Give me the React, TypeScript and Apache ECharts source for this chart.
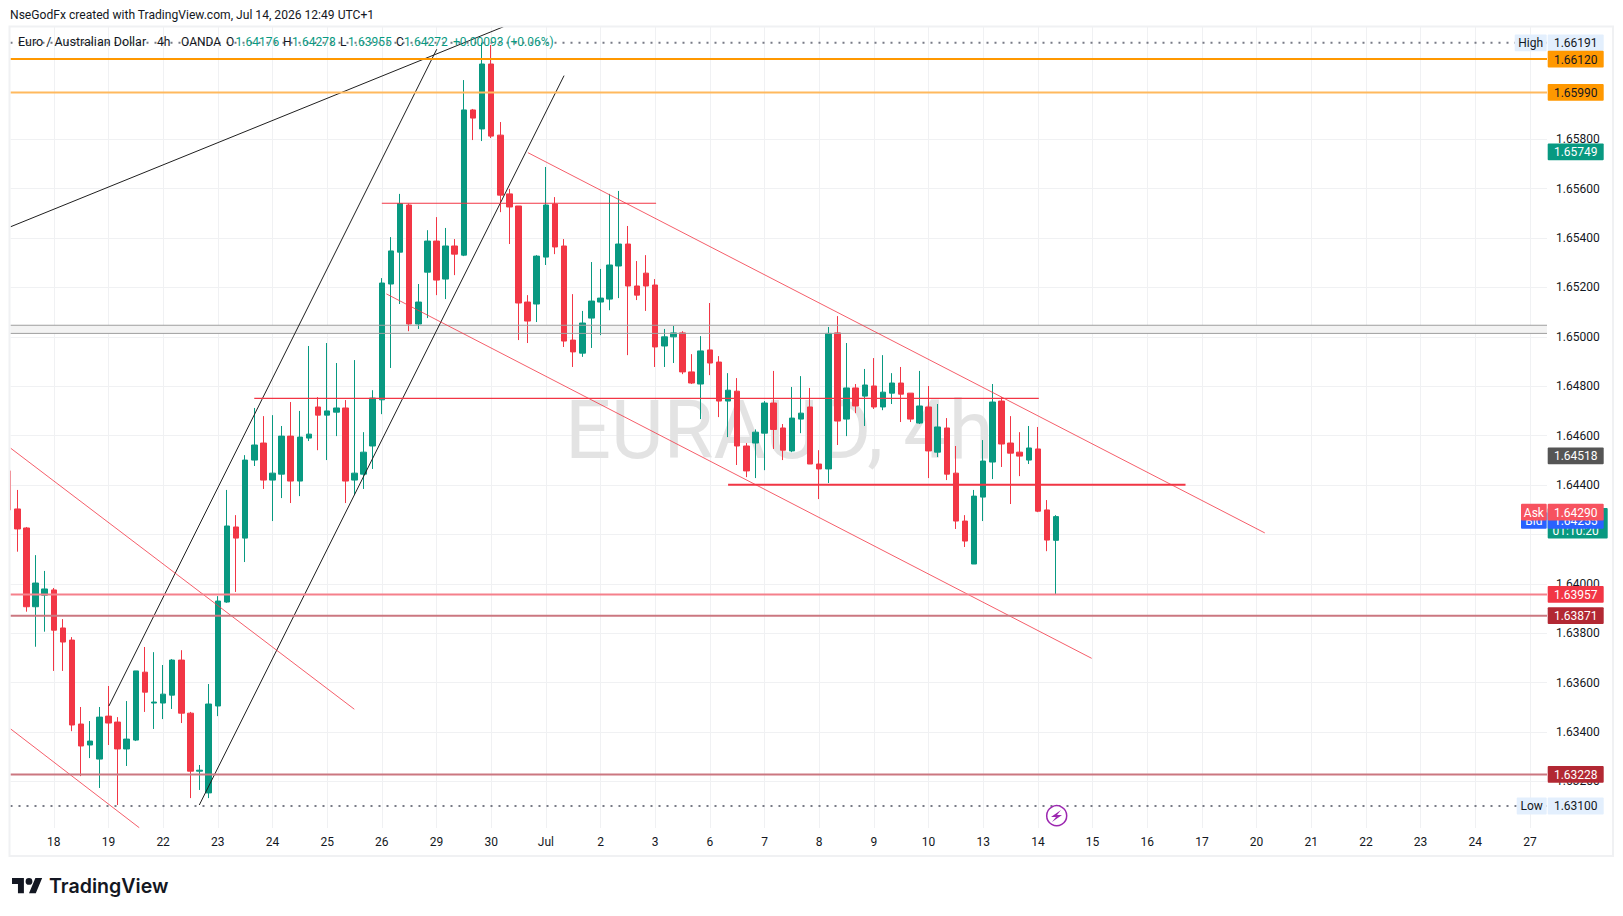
import React, { useEffect, useRef } from "react";
import * as echarts from "echarts";

// [open, high, low, close]
const barsJun17to19 = [
  [1.64457,1.64457,1.64299,1.64299],[1.64303,1.64380,1.64130,1.64222],[1.64226,1.64230,1.63887,1.63907],
  [1.63907,1.64116,1.63745,1.64003],[1.63954,1.64052,1.63806,1.63979],
  [1.63975,1.63983,1.63647,1.63812],[1.63821,1.63857,1.63647,1.63764],[1.63772,1.63784,1.63403,1.63428],
  [1.63432,1.63501,1.63221,1.63343],[1.63347,1.63444,1.63294,1.63363],[1.63290,1.63501,1.63173,1.63460],
  [1.63464,1.63586,1.63347,1.63436],[1.63440,1.63460,1.63104,1.63331],[1.63331,1.63525,1.63262,1.63371],
  [1.63367,1.63647,1.63363,1.63647],[1.63642,1.63744,1.63481,1.63561],[1.63517,1.63723,1.63412,1.63521],
];
const barsJun22to24 = [
  [1.63517,1.63671,1.63452,1.63553],[1.63549,1.63695,1.63493,1.63691],[1.63691,1.63731,1.63436,1.63476],
  [1.63476,1.63481,1.63132,1.63241],[1.63241,1.63266,1.63165,1.63245],[1.63153,1.63594,1.63132,1.63513],
  [1.63505,1.63950,1.63464,1.63930],[1.63926,1.64380,1.63923,1.64234],[1.64230,1.64278,1.63967,1.64185],
  [1.64185,1.64521,1.64088,1.64501],[1.64501,1.64712,1.64477,1.64562],[1.64570,1.64679,1.64384,1.64420],
  [1.64420,1.64683,1.64254,1.64448],[1.64444,1.64639,1.64347,1.64598],[1.64598,1.64736,1.64327,1.64416],
  [1.64416,1.64700,1.64355,1.64594],[1.64590,1.64963,1.64578,1.64606],[1.64716,1.64756,1.64541,1.64683],
];
const barsJun25to29 = [
  [1.64683,1.64975,1.64501,1.64700],[1.64695,1.64894,1.64598,1.64712],[1.64712,1.64744,1.64327,1.64416],
  [1.64420,1.64906,1.64359,1.64448],[1.64444,1.64614,1.64384,1.64533],[1.64558,1.64784,1.64465,1.64752],
  [1.64745,1.65238,1.64687,1.65218],[1.65214,1.65404,1.64874,1.65348],[1.65343,1.65579,1.65133,1.65540],
  [1.65534,1.65540,1.65023,1.65052],[1.65052,1.65214,1.65032,1.65141],[1.65262,1.65432,1.65076,1.65388],
  [1.65388,1.65485,1.65169,1.65230],[1.65234,1.65441,1.65153,1.65368],[1.65368,1.65396,1.65250,1.65335],
  [1.65331,1.66040,1.65327,1.65919],[1.65919,1.65923,1.65797,1.65886],[1.65842,1.66191,1.65793,1.66105],
];
const barsJun30toJul2 = [
  [1.66105,1.66182,1.65805,1.65813],[1.65817,1.65870,1.65505,1.65574],[1.65579,1.65599,1.65376,1.65526],
  [1.65530,1.65530,1.64987,1.65137],[1.65141,1.65169,1.64975,1.65064],[1.65133,1.65331,1.65060,1.65327],
  [1.65323,1.65688,1.65291,1.65534],[1.65538,1.65566,1.65335,1.65364],[1.65368,1.65396,1.64959,1.64983],
  [1.64987,1.65173,1.64878,1.64939],[1.64934,1.65105,1.64919,1.65056],[1.65076,1.65303,1.64955,1.65145],
  [1.65141,1.65275,1.65007,1.65157],[1.65153,1.65579,1.65108,1.65291],[1.65287,1.65591,1.65157,1.65376],
  [1.65376,1.65449,1.64926,1.65206],[1.65206,1.65307,1.65149,1.65169],[1.65258,1.65331,1.65105,1.65206],
];
const barsJul3to7 = [
  [1.65210,1.65234,1.64878,1.64959],[1.64963,1.65032,1.64878,1.65000],[1.65000,1.65044,1.64894,1.65016],
  [1.65016,1.65023,1.64849,1.64858],[1.64858,1.64930,1.64809,1.64813],[1.64809,1.65003,1.64667,1.64943],
  [1.64947,1.65137,1.64845,1.64894],[1.64898,1.64922,1.64675,1.64740],[1.64740,1.64853,1.64594,1.64784],
  [1.64780,1.64833,1.64481,1.64558],[1.64558,1.64570,1.64432,1.64457],[1.64570,1.64625,1.64428,1.64614],
  [1.64610,1.64740,1.64460,1.64732],[1.64732,1.64862,1.64546,1.64625],[1.64631,1.64647,1.64501,1.64541],
  [1.64538,1.64797,1.64533,1.64671],[1.64667,1.64841,1.64610,1.64691],[1.64716,1.64793,1.64485,1.64485],
];
const barsJul8to10 = [
  [1.64485,1.64541,1.64343,1.64465],[1.64465,1.65040,1.64408,1.65014],[1.65016,1.65084,1.64562,1.64659],
  [1.64667,1.64975,1.64598,1.64793],[1.64793,1.64809,1.64691,1.64720],[1.64760,1.64870,1.64639,1.64805],
  [1.64801,1.64914,1.64708,1.64716],[1.64716,1.64926,1.64703,1.64776],[1.64772,1.64853,1.64728,1.64813],
  [1.64813,1.64878,1.64655,1.64768],[1.64772,1.64772,1.64655,1.64667],[1.64651,1.64862,1.64647,1.64720],
  [1.64716,1.64801,1.64428,1.64538],[1.64533,1.64728,1.64513,1.64635],[1.64631,1.64671,1.64420,1.64444],
  [1.64448,1.64558,1.64222,1.64254],[1.64254,1.64278,1.64149,1.64173],[1.64080,1.64380,1.64080,1.64355],
];
const barsJul13to14 = [
  [1.64351,1.64582,1.64254,1.64497],[1.64493,1.64809,1.64424,1.64736],[1.64740,1.64756,1.64473,1.64566],
  [1.64570,1.64679,1.64323,1.64529],[1.64533,1.64614,1.64436,1.64517],[1.64501,1.64639,1.64485,1.64550],
  [1.64546,1.64635,1.64290,1.64294],[1.64299,1.64339,1.64132,1.64177],[1.64176,1.64278,1.63955,1.64272],
];
const allBars = [...barsJun17to19, ...barsJun22to24, ...barsJun25to29, ...barsJun30toJul2, ...barsJul3to7, ...barsJul8to10, ...barsJul13to14];
const firstBarIndex = -5;

const dayLabels = ["18","19","22","23","24","25","26","29","30","Jul","2","3","6","7","8","9","10","13","14","15","16","17","20","21","22","23","24","27"];
const barsPerDay = 6;
const priceTicks = [1.632,1.634,1.636,1.638,1.64,1.642,1.644,1.646,1.648,1.65,1.652,1.654,1.656,1.658];

const xMin = -4.75, xMax = 163.87;
const yMin = 1.630109, yMax = 1.662549;

const RED = "#f23645", GREEN = "#089981";

// [x1, price1, x2, price2]
const blackLines = [
  [-4.73, 1.65446, 49.36, 1.66256],
  [6.05, 1.63505, 42.03, 1.66165],
  [15.97, 1.63104, 56, 1.66058],
];
const redLines = [
  [-4.73, 1.64549, 32.98, 1.63492],
  [-4.73, 1.63412, 9.38, 1.63012],
  [52.03, 1.65746, 132.9, 1.64206],
  [36.5, 1.65174, 113.9, 1.63698],
];
const redSegments = [
  [36, 1.65541, 66.1, 1.65541, 1.2],
  [22, 1.64751, 108.1, 1.64751, 1.2],
  [74, 1.64401, 124.2, 1.64401, 2],
];
const zonePrices = [1.65047, 1.65014];
// price, colour, width
const levels: [number, string, number][] = [
  [1.66125, "#ff9800", 2],
  [1.6599, "#ffb95e", 2],
  [1.63957, "#f5808b", 2],
  [1.63871, "#cb7780", 2],
  [1.63228, "#cb7780", 2],
];
const dottedLevels = [1.66191, 1.631];
// price the tag sits at, text, background, text colour, side label
const tags: [number, string, string, string, string?][] = [
  [1.66191, "1.66191", "#e3effd", "#131722", "High"],
  [1.631, "1.63100", "#e3effd", "#131722", "Low"],
  [1.66125, "1.66120", "#ff9800", "#131722"],
  [1.6599, "1.65990", "#ff9800", "#131722"],
  [1.65749, "1.65749", GREEN, "#ffffff"],
  [1.64518, "1.64518", "#555555", "#ffffff"],
  [1.64257, "1.64255", "#2962ff", "#ffffff", "Bid"],
  [1.6429, "1.64290", "#f7525f", "#ffffff", "Ask"],
  [1.63957, "1.63957", RED, "#ffffff"],
  [1.63871, "1.63871", "#b22833", "#ffffff"],
  [1.63228, "1.63228", "#b22833", "#ffffff"],
];
const legendDark: [string, number][] = [
  ["Euro / Australian Dollar", 18], ["4h", 157], ["OANDA", 181], ["O", 226], ["H", 283], ["L", 340], ["C", 396],
];
const legendGreen: [string, number][] = [
  ["1.64176", 235.5], ["1.64278", 292], ["1.63955", 348], ["1.64272", 404], ["+0.00093 (+0.06%)", 453],
];
const countdown = "01:10:20";
const titleText = "NseGodFx created with TradingView.com, Jul 14, 2026 12:49 UTC+1";
const watermark = "EURAUD, 4h";
const brand = "TradingView";

const UI = "Roboto, 'Liberation Sans', sans-serif";

echarts.graphic.registerShape("tvlogo", echarts.graphic.extendPath("M14 22H7V11H0V4h14v18zM28 22h-8l7.5-18h8L28 22zM24 8a4 4 0 1 1-8 0a4 4 0 0 1 8 0z", {}));

const segment = (name: string, s: number[], color: string, width: number, opacity = 1) => ({
  type: "line", name, silent: true, symbol: "none", z: 3, animation: false, clip: true,
  data: [[s[0], s[1]], [s[2], s[3]]],
  lineStyle: { color, width, opacity },
});

export default function App() {
  const ref = useRef<HTMLDivElement>(null);
  useEffect(() => {
    document.body.style.margin = "0";
    const chart = echarts.init(ref.current!, null, { renderer: "svg" });
    const dayTicks = dayLabels.map((_, k) => k * barsPerDay);
    const series: any[] = [
      {
        type: "line", name: "zone", silent: true, symbol: "none", data: [], z: 1,
        markArea: {
          silent: true,
          itemStyle: { color: "#f3f3f3" },
          data: [[{ xAxis: xMin, yAxis: zonePrices[0] }, { xAxis: xMax, yAxis: zonePrices[1] }]],
        },
      },
      {
        type: "candlestick", name: "EURAUD", z: 2, barWidth: 6, clip: true,
        data: allBars.map((b, i) => [firstBarIndex + i, b[0], b[3], b[2], b[1]]),
        itemStyle: { color: GREEN, color0: RED, borderColor: GREEN, borderColor0: RED, borderWidth: 1 },
      },
      ...zonePrices.map((p) => segment("zoneEdge", [xMin, p, xMax, p], "#9e9e9e", 1)),
      ...blackLines.map((s) => segment("trend", s, "#1f1f1f", 1)),
      ...redLines.map((s) => segment("channel", s, RED, 1, 0.8)),
      ...redSegments.map((s) => segment("segment", s, RED, s[4])),
      ...levels.map((l) => segment("level", [xMin, l[0], xMax, l[0]], l[1], l[2])),
      ...dottedLevels.map((p) => ({
        type: "line", name: "extreme", silent: true, symbol: "none", z: 3,
        data: [[xMin, p], [xMax, p]],
        lineStyle: { color: "#787b86", width: 2, type: [2, 6] },
      })),
    ];
    chart.setOption({
      animation: false,
      backgroundColor: "#ffffff",
      grid: { left: 10.5, right: 76, top: 27, bottom: 88, containLabel: false },
      xAxis: {
        type: "value", min: xMin, max: xMax,
        axisLine: { show: false },
        axisTick: { show: false, customValues: dayTicks },
        splitLine: { show: true, lineStyle: { color: "#f0f1f3", width: 1 } },
        axisLabel: {
          customValues: dayTicks, margin: 8, color: "#131722", fontFamily: UI, fontSize: 12,
          hideOverlap: false, showMinLabel: true, showMaxLabel: true,
          formatter: (v: number) => dayLabels[Math.round(v / barsPerDay)] ?? "",
        },
      },
      yAxis: {
        type: "value", position: "right", min: yMin, max: yMax, scale: true,
        axisLine: { show: false },
        axisTick: { show: false, customValues: priceTicks },
        splitLine: { show: true, lineStyle: { color: "#f0f1f3", width: 1 } },
        axisLabel: {
          customValues: priceTicks, margin: 9, color: "#131722", fontFamily: UI, fontSize: 12,
          hideOverlap: false, showMinLabel: true, showMaxLabel: true,
          formatter: (v: number) => v.toFixed(5),
        },
      },
      series,
    });

    const elements: any[] = [];
    const txt = (text: string, x: number, y: number, fill: string, font: string, align = "left", z = 100) => ({
      type: "text", x, y, z, silent: true,
      style: { text, fill, font, textAlign: align, textVerticalAlign: "middle" },
    });
    const box = (x: number, y: number, width: number, height: number, fill: string, z = 100) => ({
      type: "rect", z, silent: true, shape: { x, y, width, height, r: 1 }, style: { fill },
    });
    // watermark, behind the candles
    elements.push({
      type: "text", x: 565, y: 430, z: 0, zlevel: 0, silent: true,
      style: { text: watermark, fill: "#e3e3e3", font: "81px Roboto, sans-serif", textAlign: "left", textVerticalAlign: "middle" },
    });
    // margin left of the pane, where the chart's first candle is cut off
    elements.push({
      type: "rect", z: 89, silent: true,
      shape: { x: 0, y: 27, width: 10, height: 801 },
      style: { fill: "#ffffff" },
    });
    // pane frame
    elements.push({
      type: "rect", z: 90, silent: true,
      shape: { x: 9.5, y: 26.5, width: 1603.5, height: 829.5 },
      style: { fill: "none", stroke: "#f0f1f3", lineWidth: 2 },
    });
    elements.push(txt(titleText, 10, 15, "#131722", `12.1px ${UI}`));
    elements.push(txt(legendDark[0][0], legendDark[0][1], 41.5, "#131722", `12.5px ${UI}`));
    legendDark.slice(1).forEach(([t, x]) => elements.push(txt(t, x, 41.5, "#131722", `12px ${UI}`)));
    legendGreen.forEach(([t, x]) => elements.push(txt(t, x, 41.5, GREEN, `12px ${UI}`)));

    // countdown tag, under the bid and ask tags
    const lastY = chart.convertToPixel({ yAxisIndex: 0 }, allBars[allBars.length - 1][3]) as number;
    elements.push(box(1547.7, lastY - 8.7, 60, 30.7, GREEN, 95));
    elements.push(txt(countdown, 1575.7, lastY + 14, "#ffffff", `12px ${UI}`, "center", 95));

    tags.forEach(([price, label, bg, fg, side], idx) => {
      const y = chart.convertToPixel({ yAxisIndex: 0 }, price) as number;
      const z = 100 + idx;
      elements.push(box(1547.7, y - 8.4, 56, 16.8, bg, z));
      elements.push(txt(label, 1575.7, y + 0.5, fg, `12px ${UI}`, "center", z));
      if (side) {
        const w = side === "High" ? 32 : side === "Low" ? 30 : 25.7;
        elements.push(box(1546.7 - w, y - 8.4, w, 16.8, bg, z));
        elements.push(txt(side, 1546.7 - w / 2, y + 0.5, fg, `12px ${UI}`, "center", z));
      }
    });

    // bolt marker
    elements.push({
      type: "circle", z: 100, silent: true, shape: { cx: 1056.7, cy: 815.7, r: 10 },
      style: { fill: "#ffffff", stroke: "#9c27b0", lineWidth: 1.5 },
    });
    elements.push({
      type: "polygon", z: 101, silent: true,
      shape: { points: [[1061, 810], [1051, 817], [1056, 817], [1052, 822], [1062, 815], [1057, 815]] },
      style: { fill: "#9c27b0" },
    });
    // brand
    elements.push({
      type: "tvlogo", x: 12, y: 874.6, scaleX: 0.85, scaleY: 0.85, z: 100, silent: true,
      style: { fill: "#131722" },
    });
    elements.push(txt(brand, 49, 886, "#131722", "600 19.6px Inter, sans-serif"));

    chart.setOption({ graphic: { elements } });
    return () => chart.dispose();
  }, []);
  return <div ref={ref} style={{ position: "absolute", left: 0, top: 0, width: 1623, height: 916 }} />;
}
